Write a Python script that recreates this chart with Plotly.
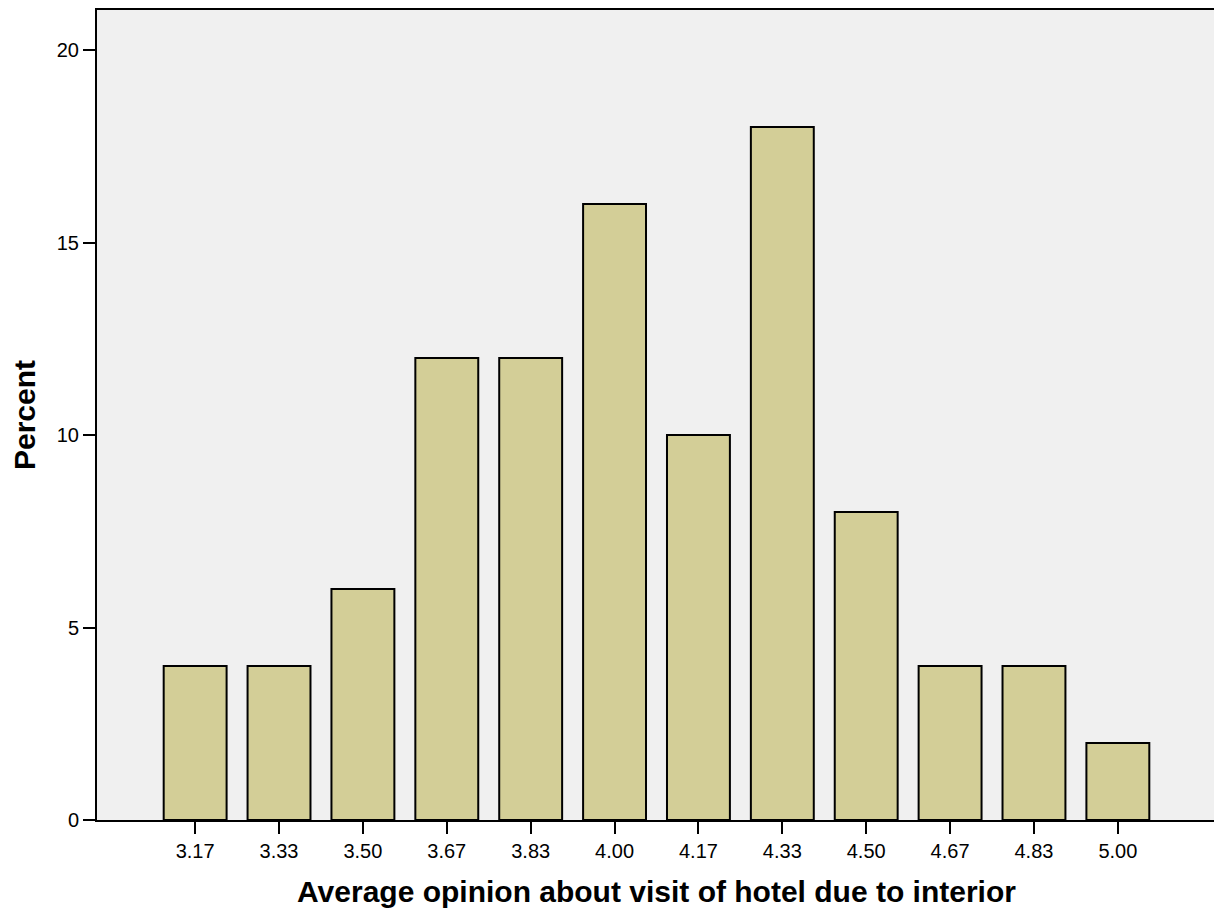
import plotly.graph_objects as go

categories = ["3.17", "3.33", "3.50", "3.67", "3.83", "4.00", "4.17", "4.33", "4.50", "4.67", "4.83", "5.00"]
percent = [4, 4, 6, 12, 12, 16, 10, 18, 8, 4, 4, 2]
y_ticks = [0, 5, 10, 15, 20]

fig = go.Figure(go.Bar(
    x=categories, y=percent,
    width=0.75,
    marker=dict(color="#D3CE97", line=dict(color="black", width=2)),
))

font_family = "Liberation Sans, Arial, sans-serif"
# page body has an 8px default margin, so the figure is offset by 8px
fig.update_layout(
    width=1214, height=906,
    margin=dict(l=87, r=6, t=0, b=94),
    paper_bgcolor="white", plot_bgcolor="#F0F0F0",
    showlegend=False,
    font=dict(family=font_family, color="black", size=20),
)
fig.update_xaxes(
    type="category", range=[-1.17, 12.17],
    showline=True, linecolor="black", linewidth=2, mirror=True,
    ticks="outside", ticklen=12, tickwidth=2, tickcolor="black",
    showgrid=False, zeroline=False,
    tickfont=dict(size=20),
    title=dict(text="<b>Average opinion about visit of hotel due to interior</b>",
               font=dict(size=30), standoff=20),
)
fig.update_yaxes(
    range=[0, 21.04], tickvals=y_ticks,
    showline=True, linecolor="black", linewidth=2, mirror=True,
    ticks="outside", ticklen=12, tickwidth=2, tickcolor="black",
    showgrid=False, zeroline=False,
    tickfont=dict(size=20),
    title=dict(text="<b>Percent</b>", font=dict(size=30), standoff=28),
)

fig.write_html("out.html")
